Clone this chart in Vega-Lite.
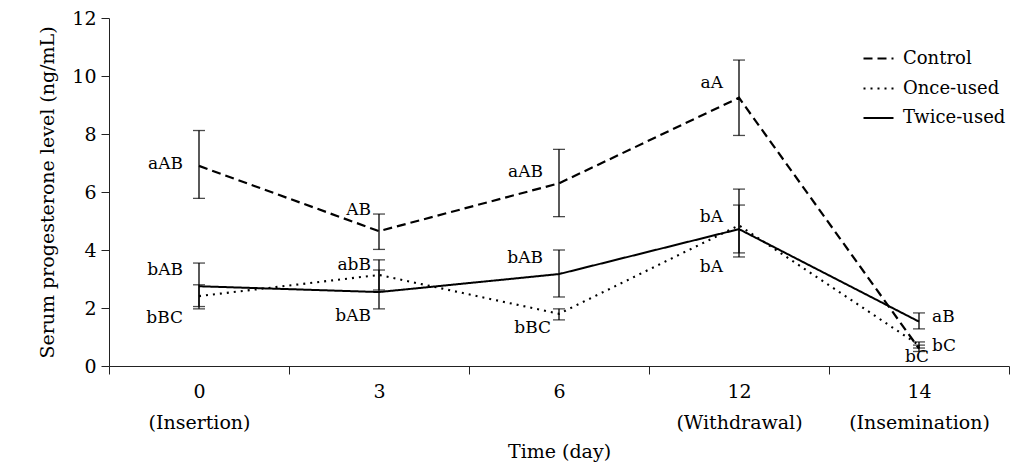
{
  "$schema": "https://vega.github.io/schema/vega-lite/v6.json",
  "autosize": "none",
  "width": 900,
  "height": 348,
  "padding": {"left": 109, "top": 18, "right": 8, "bottom": 100},
  "config": {
    "view": {"stroke": null},
    "font": "DejaVu Serif",
    "text": {"font": "DejaVu Serif", "fontSize": 17, "color": "#000"},
    "axis": {"labelFont": "DejaVu Serif", "titleFont": "DejaVu Serif", "labelFontSize": 19, "titleFontSize": 19, "titleFontWeight": "normal", "labelColor": "#000", "titleColor": "#000", "domainColor": "#222", "tickColor": "#222", "grid": false},
    "legend": {"labelFont": "DejaVu Serif", "labelFontSize": 18, "labelColor": "#000"}
  },
  "datasets": {
    "main": [
      {"day": "0", "group": "Control", "mean": 6.9, "low": 5.78, "high": 8.12},
      {"day": "3", "group": "Control", "mean": 4.65, "low": 4.02, "high": 5.24},
      {"day": "6", "group": "Control", "mean": 6.3, "low": 5.15, "high": 7.47},
      {"day": "12", "group": "Control", "mean": 9.25, "low": 7.95, "high": 10.55},
      {"day": "14", "group": "Control", "mean": 0.6, "low": 0.5, "high": 0.72},
      {"day": "0", "group": "Once-used", "mean": 2.41, "low": 1.97, "high": 2.8},
      {"day": "3", "group": "Once-used", "mean": 3.14, "low": 2.62, "high": 3.66},
      {"day": "6", "group": "Once-used", "mean": 1.8, "low": 1.59, "high": 1.97},
      {"day": "12", "group": "Once-used", "mean": 4.85, "low": 3.76, "high": 6.1},
      {"day": "14", "group": "Once-used", "mean": 0.72, "low": 0.62, "high": 0.83},
      {"day": "0", "group": "Twice-used", "mean": 2.75, "low": 2.05, "high": 3.55},
      {"day": "3", "group": "Twice-used", "mean": 2.55, "low": 1.97, "high": 3.31},
      {"day": "6", "group": "Twice-used", "mean": 3.17, "low": 2.38, "high": 4.0},
      {"day": "12", "group": "Twice-used", "mean": 4.72, "low": 3.9, "high": 5.55},
      {"day": "14", "group": "Twice-used", "mean": 1.53, "low": 1.28, "high": 1.83}
    ],
    "labels": [
      {"day": "0", "y": 6.95, "label": "aAB", "side": "L"},
      {"day": "0", "y": 3.3, "label": "bAB", "side": "L"},
      {"day": "0", "y": 1.65, "label": "bBC", "side": "L"},
      {"day": "3", "y": 5.38, "label": "AB", "side": "l"},
      {"day": "3", "y": 3.48, "label": "abB", "side": "l"},
      {"day": "3", "y": 1.72, "label": "bAB", "side": "l"},
      {"day": "6", "y": 6.7, "label": "aAB", "side": "L"},
      {"day": "6", "y": 3.72, "label": "bAB", "side": "L"},
      {"day": "6", "y": 1.3, "label": "bBC", "side": "l"},
      {"day": "12", "y": 9.76, "label": "aA", "side": "L"},
      {"day": "12", "y": 5.14, "label": "bA", "side": "L"},
      {"day": "12", "y": 3.41, "label": "bA", "side": "L"},
      {"day": "14", "y": 1.7, "label": "aB", "side": "R"},
      {"day": "14", "y": 0.69, "label": "bC", "side": "R"},
      {"day": "14", "y": 0.31, "label": "bC", "side": "C"}
    ]
  },
  "encoding": {
    "x": {
      "field": "day", "type": "nominal", "sort": ["0", "3", "6", "12", "14"],
      "scale": {"domain": ["0", "3", "6", "12", "14"], "paddingInner": 0, "paddingOuter": 0},
      "axis": {
        "title": "Time (day)", "labelAngle": 0, "tickBand": "extent", "tickSize": 8, "labelPadding": 8,
        "labelLineHeight": 31, "titlePadding": 10,
        "labelExpr": "datum.value == '0' ? ['0', '(Insertion)'] : datum.value == '12' ? ['12', '(Withdrawal)'] : datum.value == '14' ? ['14', '(Insemination)'] : datum.value"
      }
    }
  },
  "layer": [
    {
      "data": {"name": "main"},
      "mark": {"type": "rule", "color": "#000", "strokeWidth": 1.3},
      "encoding": {
        "y": {"field": "low", "type": "quantitative", "scale": {"domain": [0, 12], "nice": false},
          "axis": {"title": "Serum progesterone level (ng/mL)", "values": [0, 2, 4, 6, 8, 10, 12], "tickSize": 8, "labelPadding": 5, "titlePadding": 14}},
        "y2": {"field": "high"}
      }
    },
    {
      "data": {"name": "main"},
      "mark": {"type": "tick", "color": "#000", "thickness": 1.3, "size": 12, "orient": "horizontal"},
      "encoding": {"y": {"field": "low", "type": "quantitative"}}
    },
    {
      "data": {"name": "main"},
      "mark": {"type": "tick", "color": "#000", "thickness": 1.3, "size": 12, "orient": "horizontal"},
      "encoding": {"y": {"field": "high", "type": "quantitative"}}
    },
    {
      "data": {"name": "main"},
      "mark": {"type": "line", "color": "#000", "strokeCap": "butt"},
      "encoding": {
        "y": {"field": "mean", "type": "quantitative"},
        "detail": {"field": "group"},
        "strokeDash": {
          "field": "group", "type": "nominal",
          "scale": {"domain": ["Control", "Once-used", "Twice-used"], "range": [[9, 5], [2, 5], [1, 0]]},
          "legend": {"title": null, "orient": "none", "legendX": 753, "legendY": 24, "symbolType": "stroke", "symbolSize": 900, "symbolStrokeWidth": 2.2, "symbolStrokeColor": "#000", "rowPadding": 4, "labelOffset": 8}
        },
        "strokeWidth": {
          "field": "group", "type": "nominal",
          "scale": {"domain": ["Control", "Once-used", "Twice-used"], "range": [2.2, 2, 2.5]},
          "legend": null
        }
      }
    },
    {
      "data": {"name": "labels"},
      "transform": [{"filter": "datum.side == 'L'"}],
      "mark": {"type": "text", "align": "right", "baseline": "middle", "dx": -16},
      "encoding": {"y": {"field": "y", "type": "quantitative"}, "text": {"field": "label"}}
    },
    {
      "data": {"name": "labels"},
      "transform": [{"filter": "datum.side == 'l'"}],
      "mark": {"type": "text", "align": "right", "baseline": "middle", "dx": -8},
      "encoding": {"y": {"field": "y", "type": "quantitative"}, "text": {"field": "label"}}
    },
    {
      "data": {"name": "labels"},
      "transform": [{"filter": "datum.side == 'R'"}],
      "mark": {"type": "text", "align": "left", "baseline": "middle", "dx": 13},
      "encoding": {"y": {"field": "y", "type": "quantitative"}, "text": {"field": "label"}}
    },
    {
      "data": {"name": "labels"},
      "transform": [{"filter": "datum.side == 'C'"}],
      "mark": {"type": "text", "align": "center", "baseline": "middle", "dx": -2},
      "encoding": {"y": {"field": "y", "type": "quantitative"}, "text": {"field": "label"}}
    }
  ]
}
